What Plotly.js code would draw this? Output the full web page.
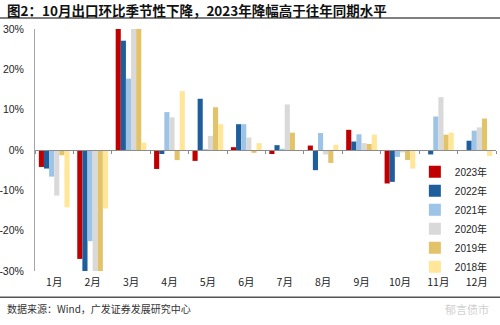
<!DOCTYPE html>
<html>
<head>
<meta charset="utf-8">
<script src="https://cdn.plot.ly/plotly-3.0.1.min.js"></script>
<style>
html,body{margin:0;padding:0;background:#fff;}
#chart{width:500px;height:325px;}
</style>
</head>
<body>
<div id="chart"></div>
<script>
var months = ["1月","2月","3月","4月","5月","6月","7月","8月","9月","10月","11月","12月"];
var seriesNames = ["2023年","2022年","2021年","2020年","2019年","2018年"];
var v2023 = [-4.2, -27.0, 32, -4.7, -2.7, 0.7, -1.0, 1.1, 5.0, -8.3, null, null];
var v2022 = [-4.6, -32, 27.1, -1.0, 12.7, 6.4, 1.2, -5.0, 2.1, -7.9, -1.1, 2.3];
var v2021 = [-6.6, -22.6, 17.7, 9.4, 0.2, 6.4, 0.3, 4.2, 3.9, -1.7, 8.3, 4.8];
var v2020 = [-11.3, -32, 32, 8.1, 3.5, 3.1, 11.3, -1.1, 1.7, -0.6, 13.1, 5.6];
var v2019 = [-1.3, -32, 32, -2.5, 10.6, -0.7, 4.3, -3.2, 1.5, -2.5, 3.8, 7.8];
var v2018 = [-14.2, -14.5, 1.8, 14.6, 6.4, 1.7, -0.3, 1.3, 3.8, -4.6, 4.3, -1.5];
var yTickVals = [-30, -20, -10, 0, 10, 20, 30];
var yTickText = ["-30%", "-20%", "-10%", "0%", "10%", "20%", "30%"];
var colors = ["#C00000", "#1F5E9C", "#9DC3E6", "#D9D9D9", "#E2C36A", "#FFE699"];
var allValues = [v2023, v2022, v2021, v2020, v2019, v2018];

var traces = allValues.map(function (vals, i) {
  return {
    type: "bar",
    name: seriesNames[i],
    x: months,
    y: vals,
    marker: {color: colors[i], line: {width: 0}},
    hoverinfo: "skip"
  };
});

var font = "Arial, 'Liberation Sans', 'Noto Sans CJK SC', sans-serif";

var layout = {
  width: 500, height: 325,
  margin: {l: 35, r: 4, t: 29, b: 54},
  paper_bgcolor: "#fff", plot_bgcolor: "#fff",
  barmode: "group",
  bargap: 0.2,
  bargroupgap: 0,
  showlegend: true,
  font: {family: font, size: 11, color: "#222"},
  xaxis: {
    type: "category",
    categoryorder: "array",
    categoryarray: months,
    anchor: "free",
    position: 0.5,
    showline: true,
    linecolor: "#8c8c8c",
    linewidth: 1,
    ticks: "outside",
    tickson: "boundaries",
    ticklen: 3,
    tickcolor: "#8c8c8c",
    ticklabelstandoff: 122,
    showgrid: false,
    zeroline: false,
    tickfont: {family: "'Noto Sans CJK SC', sans-serif", size: 10.5, color: "#222"},
    fixedrange: true
  },
  yaxis: {
    range: [-30, 30],
    tickvals: yTickVals,
    ticktext: yTickText,
    showline: true,
    linecolor: "#a6a6a6",
    linewidth: 1,
    ticks: "",
    ticklabelstandoff: 8,
    showgrid: false,
    zeroline: false,
    tickfont: {family: font, size: 10.5, color: "#222"},
    fixedrange: true
  },
  legend: {
    x: 0.824, xanchor: "left",
    y: 0.47, yanchor: "top",
    bgcolor: "rgba(0,0,0,0)",
    font: {family: font, size: 10, color: "#222"},
    tracegroupgap: 0,
    itemwidth: 30
  },
  shapes: [
    {type: "line", xref: "paper", yref: "paper", x0: -0.076, x1: 1.01, y0: 1.045, y1: 1.045,
     line: {color: "#555", width: 1.5}},
    {type: "line", xref: "paper", yref: "paper", x0: -0.076, x1: 1.01, y0: -0.108, y1: -0.108,
     line: {color: "#555", width: 1.5}}
  ],
  annotations: [
    {xref: "paper", yref: "paper", x: -0.066, y: 1.08, xanchor: "left", yanchor: "middle",
     showarrow: false, text: "<b>图2：10月出口环比季节性下降，2023年降幅高于往年同期水平</b>",
     font: {family: "'Noto Sans CJK SC', sans-serif", size: 13.5, color: "#111"}},
    {xref: "paper", yref: "paper", x: -0.066, y: -0.157, xanchor: "left", yanchor: "middle",
     showarrow: false, text: "数据来源：Wind，广发证券发展研究中心",
     font: {family: "'Noto Sans CJK SC', sans-serif", size: 10, color: "#333"}},
    {xref: "paper", yref: "paper", x: 0.99, y: -0.155, xanchor: "right", yanchor: "middle",
     showarrow: false, text: "郁言债市",
     font: {family: "'Noto Sans CJK SC', sans-serif", size: 11, color: "#d0d0d0"}}
  ]
};

Plotly.newPlot("chart", traces, layout, {staticPlot: true, displayModeBar: false});
</script>
</body>
</html>
